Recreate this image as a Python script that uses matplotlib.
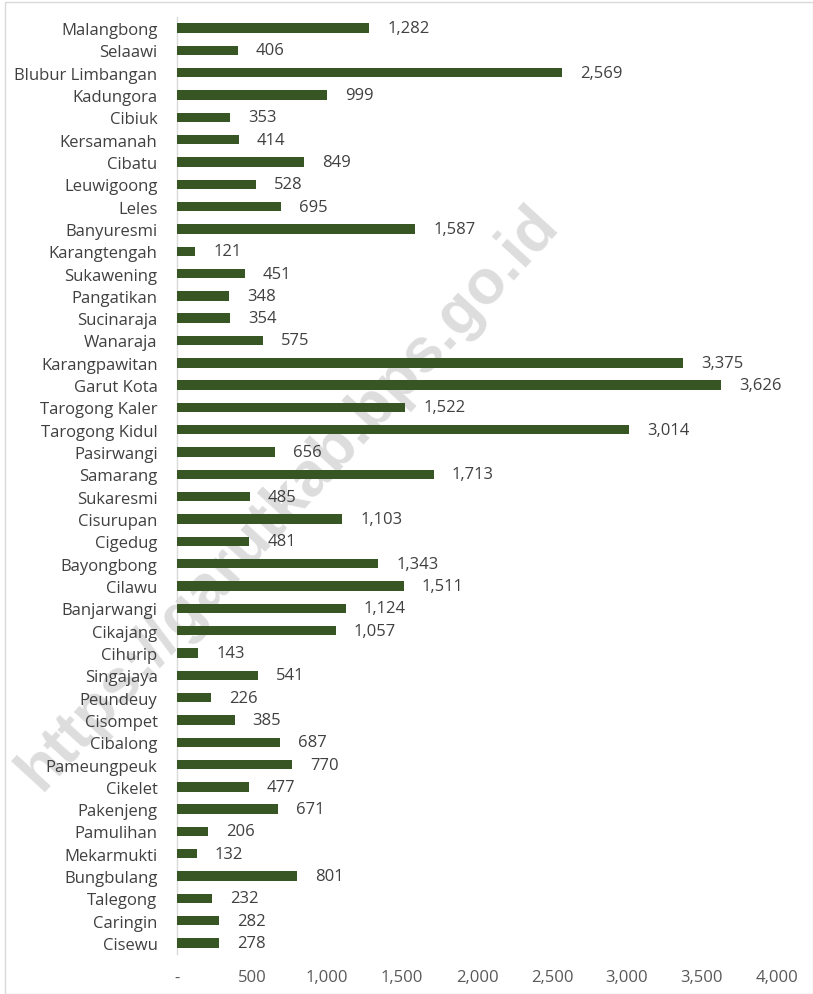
import matplotlib.pyplot as plt
from matplotlib.patches import Rectangle

# Kecamatan di Kabupaten Garut (urut dari atas)
districts = ["Malangbong", "Selaawi", "Blubur Limbangan", "Kadungora", "Cibiuk",
             "Kersamanah", "Cibatu", "Leuwigoong", "Leles", "Banyuresmi",
             "Karangtengah", "Sukawening", "Pangatikan", "Sucinaraja", "Wanaraja",
             "Karangpawitan", "Garut Kota", "Tarogong Kaler", "Tarogong Kidul",
             "Pasirwangi", "Samarang", "Sukaresmi", "Cisurupan", "Cigedug",
             "Bayongbong", "Cilawu", "Banjarwangi", "Cikajang", "Cihurip",
             "Singajaya", "Peundeuy", "Cisompet", "Cibalong", "Pameungpeuk",
             "Cikelet", "Pakenjeng", "Pamulihan", "Mekarmukti", "Bungbulang",
             "Talegong", "Caringin", "Cisewu"]
values = [1282, 406, 2569, 999, 353, 414, 849, 528, 695, 1587,
          121, 451, 348, 354, 575, 3375, 3626, 1522, 3014,
          656, 1713, 485, 1103, 481, 1343, 1511, 1124, 1057, 143,
          541, 226, 385, 687, 770, 477, 671, 206, 132, 801,
          232, 282, 278]
xticks = [0, 500, 1000, 1500, 2000, 2500, 3000, 3500, 4000]
xtick_labels = ["-", "500", "1,000", "1,500", "2,000", "2,500", "3,000", "3,500", "4,000"]

plt.rcParams['font.family'] = ['Open Sans', 'DejaVu Sans']

fig = plt.figure(figsize=(8.13, 9.95), dpi=100)
ax = fig.add_axes([0.2177, 0.040, 0.738, 0.942])
ax.patch.set_visible(False)

bar_color = '#375623'
text_color = '#404040'

y = list(range(len(districts)))
ax.barh(y, values, height=0.42, color=bar_color, zorder=3)
for yi, v in zip(y, values):
    ax.text(v + 120, yi, f"{v:,}", va='center', ha='left', fontsize=12,
            color=text_color, zorder=4)

ax.set_yticks(y)
ax.set_yticklabels(districts, fontsize=12, color=text_color)
ax.set_ylim(len(districts) - 0.5, -0.5)
ax.set_xlim(0, 4000)
ax.set_xticks(xticks)
ax.set_xticklabels(xtick_labels, fontsize=12, color='#595959')
ax.tick_params(axis='both', length=0)
ax.tick_params(axis='x', pad=11)
ax.tick_params(axis='y', pad=14)

for side in ['top', 'right', 'bottom']:
    ax.spines[side].set_visible(False)
ax.spines['left'].set_color('#d9d9d9')
ax.spines['left'].set_linewidth(1.0)

# watermark, drawn behind the axes
fig.text(0.355, 0.50, "https://garutkab.bps.go.id", rotation=47.5, fontsize=45,
         fontweight='bold', color='#dddddd', ha='center', va='center',
         family=['Liberation Sans', 'DejaVu Sans'], zorder=-1)

# chart border
fig.patches.append(Rectangle((0.006, 0.0), 0.994, 0.997, transform=fig.transFigure,
                             fill=False, edgecolor='#d9d9d9', linewidth=1.0))

fig.savefig('out.png', dpi=100)
